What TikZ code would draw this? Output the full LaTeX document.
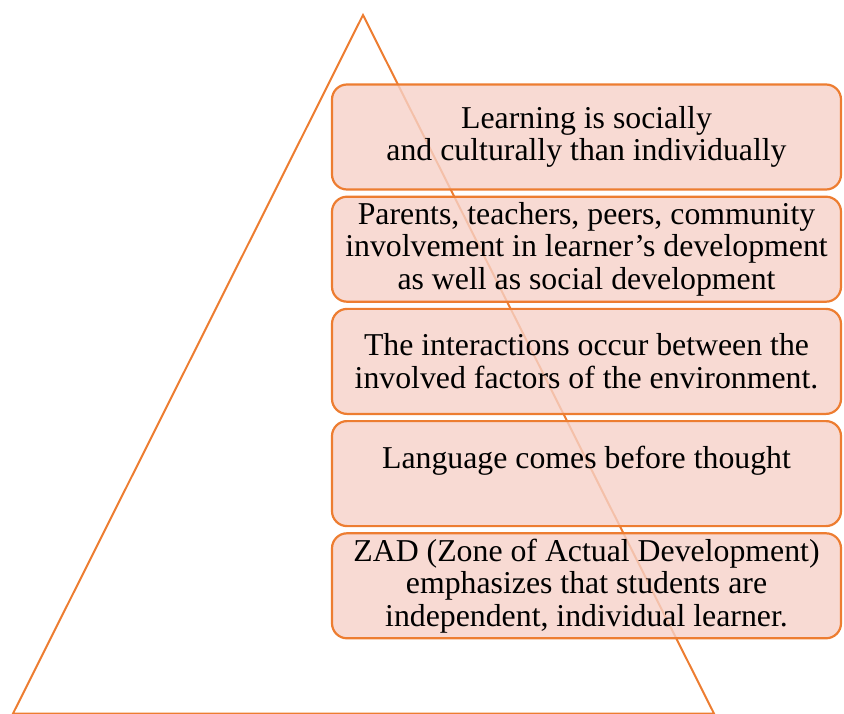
\documentclass[tikz,border=0pt]{standalone}
\usepackage{fontspec}
\setmainfont{Liberation Serif}
\usetikzlibrary{
  positioning
}
\definecolor{pyrorange}{RGB}{237,125,49}
\definecolor{pyrpink}{RGB}{246,209,200}

\begin{document}
\begin{tikzpicture}[x=1pt, y=-1pt,
  node distance=5pt,
  every node/.style = {align=center,
    font=\fontsize{31.8}{32.5}\selectfont},
  layerbox/.style = {shape=rectangle, rounded corners=15pt,
    draw=pyrorange, line width=2.2pt,
    fill=pyrpink, fill opacity=0.8, text opacity=1,
    minimum width=509pt, minimum height=105pt, inner sep=0pt}]
  \useasboundingbox (0,0) rectangle (844,714);
  % pyramid
  \coordinate (apex)  at (363,15);
  \coordinate (left)  at (13,713.5);
  \coordinate (right) at (714,713.5);
  \draw[pyrorange, line width=2pt] (apex) -- (right) -- (left) -- cycle;
  % layers
  \node[layerbox] (social) at (586.5,137)
    {Learning is socially\\ and culturally than individually};
  \node[layerbox, below=of social] (involve)
    {Parents, teachers, peers, community\\ involvement in learner’s development\\ as well as social development};
  \node[layerbox, below=of involve] (interact)
    {The interactions occur between the\\ involved factors of the environment.};
  \node[layerbox, below=of interact] (language)
    {Language comes before thought\\ ~};
  \node[layerbox, below=of language] (zad)
    {ZAD (Zone of Actual Development)\\ emphasizes that students are\\ independent, individual learner.};
\end{tikzpicture}
\end{document}
